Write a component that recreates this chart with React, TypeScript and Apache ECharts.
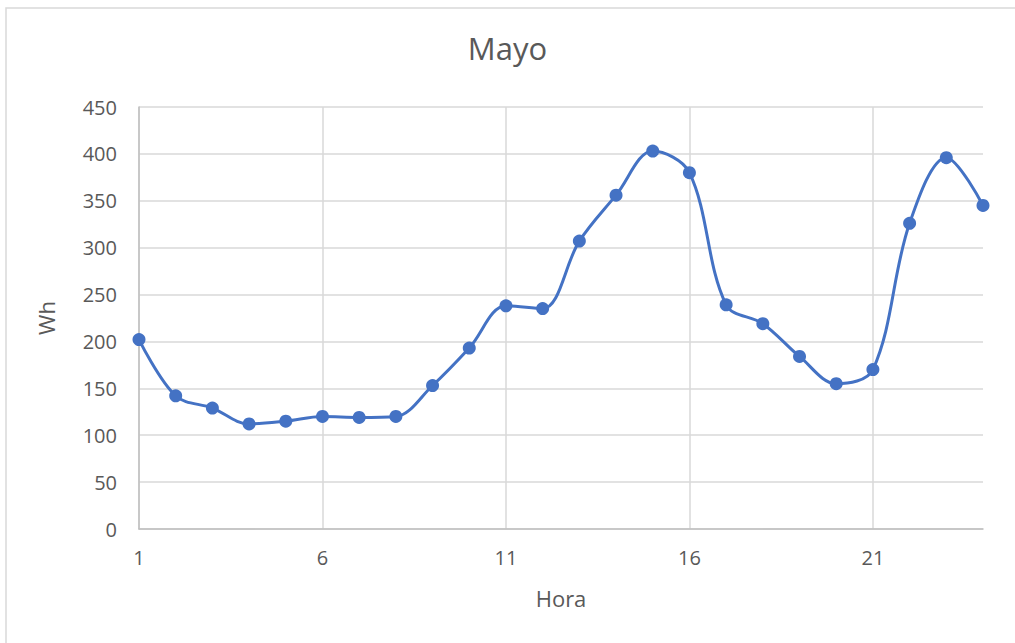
import React, { useEffect, useRef } from "react";
import * as echarts from "echarts";

const hours = ["1","2","3","4","5","6","7","8","9","10","11","12","13","14","15","16","17","18","19","20","21","22","23","24"];
const energyWh = [202, 142, 129, 112, 115, 120, 119, 120, 153, 193, 238, 235, 307, 356, 403, 380, 239, 219, 184, 155, 170, 326, 396, 345];
const yTicks = { min: 0, max: 450, interval: 50 };

const FONT = "'Open Sans', 'Noto Sans', sans-serif";
const TEXT = "#595959";
const GRID = "#D9D9D9";
const LINE = "#4472C4";

export default function App() {
  const ref = useRef<HTMLDivElement>(null);
  useEffect(() => {
    if (!ref.current) return;
    const chart = echarts.init(ref.current, undefined, { renderer: "svg" });
    chart.setOption({
      animation: false,
      backgroundColor: "#ffffff",
      title: {
        text: "Mayo",
        left: "center",
        top: 27,
        textStyle: { fontFamily: FONT, fontSize: 31, fontWeight: "normal", color: TEXT },
      },
      graphic: [
        {
          type: "rect",
          shape: { x: 6, y: 8, width: 1030, height: 660 },
          style: { fill: "none", stroke: GRID, lineWidth: 1.5 },
          silent: true,
          z: -1,
        },
      ],
      grid: { left: 139, right: 32, top: 107, bottom: 114, containLabel: false },
      xAxis: {
        type: "category",
        data: hours,
        boundaryGap: false,
        name: "Hora",
        nameLocation: "middle",
        nameGap: 58,
        nameTextStyle: { fontFamily: FONT, fontSize: 22, color: TEXT },
        axisLine: { show: true, lineStyle: { color: "#BFBFBF", width: 1.5 } },
        axisTick: { show: false },
        axisLabel: { interval: 4, margin: 18, fontFamily: FONT, fontSize: 20, color: TEXT },
        splitLine: { show: true, interval: 4, lineStyle: { color: GRID, width: 1.5 } },
      },
      yAxis: {
        type: "value",
        min: yTicks.min,
        max: yTicks.max,
        interval: yTicks.interval,
        name: "Wh",
        nameLocation: "middle",
        nameGap: 82,
        nameRotate: 90,
        nameTextStyle: { fontFamily: FONT, fontSize: 22, color: TEXT },
        axisLine: { show: true, lineStyle: { color: "#BFBFBF", width: 1.5 } },
        axisTick: { show: false },
        axisLabel: { margin: 22, fontFamily: FONT, fontSize: 20, color: TEXT },
        splitLine: { show: true, lineStyle: { color: GRID, width: 1.5 } },
      },
      series: [
        {
          type: "line",
          data: energyWh,
          smooth: 0.35,
          symbol: "circle",
          symbolSize: 13,
          lineStyle: { color: LINE, width: 3 },
          itemStyle: { color: LINE },
        },
      ],
    });
    return () => chart.dispose();
  }, []);
  return (
    <div
      ref={ref}
      style={{ position: "absolute", left: 0, top: 0, width: 1015, height: 643 }}
    />
  );
}
